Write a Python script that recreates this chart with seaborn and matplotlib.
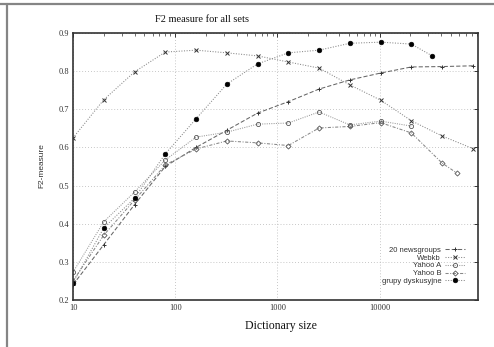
import matplotlib
matplotlib.use("Agg")
import matplotlib.pyplot as plt
import seaborn as sns
from matplotlib.lines import Line2D
from matplotlib.ticker import FixedLocator, FixedFormatter, LogLocator, NullFormatter

# ---------------- data ----------------
sizes_ng20 = [10, 20, 40, 80, 160, 320, 640, 1280, 2560, 5120, 10240, 20480, 40960, 81920]
f2_ng20 = [0.24, 0.345, 0.45, 0.55, 0.60, 0.645, 0.69, 0.72, 0.753, 0.777, 0.795, 0.811, 0.812, 0.814]

sizes_webkb = [10, 20, 40, 80, 160, 320, 640, 1280, 2560, 5120, 10240, 20480, 40960, 81920]
f2_webkb = [0.625, 0.725, 0.798, 0.85, 0.855, 0.848, 0.84, 0.824, 0.808, 0.764, 0.724, 0.67, 0.63, 0.597]

sizes_yahooA = [10, 20, 40, 80, 160, 320, 640, 1280, 2560, 5120, 10240, 20480]
f2_yahooA = [0.273, 0.405, 0.483, 0.567, 0.627, 0.64, 0.661, 0.664, 0.693, 0.659, 0.669, 0.656]

sizes_yahooB = [10, 20, 40, 80, 160, 320, 640, 1280, 2560, 5120, 10240, 20480, 40960, 57000]
f2_yahooB = [0.25, 0.37, 0.462, 0.554, 0.596, 0.617, 0.612, 0.605, 0.651, 0.655, 0.665, 0.638, 0.559, 0.533]

sizes_grupy = [10, 20, 40, 80, 160, 320, 640, 1280, 2560, 5120, 10240, 20480, 32768]
f2_grupy = [0.245, 0.389, 0.467, 0.583, 0.675, 0.766, 0.819, 0.848, 0.855, 0.873, 0.876, 0.871, 0.84]

series_names = ["20 newsgroups", "Webkb", "Yahoo A", "Yahoo B", "grupy dyskusyjne"]
x_ticks = [10, 100, 1000, 10000]
x_ticklabels = ["10", "100", "1000", "10000"]
y_ticks = [0.2, 0.3, 0.4, 0.5, 0.6, 0.7, 0.8, 0.9]
y_ticklabels = ["0.2", "0.3", "0.4", "0.5", "0.6", "0.7", "0.8", "0.9"]
title = "F2 measure for all sets"
xlabel = "Dictionary size"
ylabel = "F2-measure"

# ---------------- figure ----------------
sns.set_style("white")
plt.rcParams["font.family"] = ["Liberation Serif", "DejaVu Serif"]

W, H = 494, 347
fig = plt.figure(figsize=(W / 100, H / 100), dpi=100)
ax = fig.add_axes([73 / W, 1 - 300 / H, (478 - 73) / W, (300 - 33) / H])

styles = [
    dict(marker="+", ms=3.5, ls=(0, (4, 2)), color="#666666", mfc="#333333", mec="#333333", mew=0.7),
    dict(marker="x", ms=3.2, ls=(0, (1, 1.5)), color="#888888", mfc="#333333", mec="#333333", mew=0.7),
    dict(marker="o", ms=3.0, ls=(0, (1, 1.2)), color="#999999", mfc="none", mec="#555555", mew=0.6),
    dict(marker="D", ms=2.6, ls=(0, (3, 1.5, 1, 1.5)), color="#888888", mfc="none", mec="#555555", mew=0.6),
    dict(marker="o", ms=3.4, ls=(0, (1, 1.5)), color="#888888", mfc="black", mec="black", mew=0.4),
]
all_x = [sizes_ng20, sizes_webkb, sizes_yahooA, sizes_yahooB, sizes_grupy]
all_y = [f2_ng20, f2_webkb, f2_yahooA, f2_yahooB, f2_grupy]

for name, xs, ys, st in zip(series_names, all_x, all_y, styles):
    sns.lineplot(x=xs, y=ys, ax=ax, label=name, marker=st["marker"], markersize=st["ms"],
                 linestyle=st["ls"], color=st["color"], linewidth=0.75,
                 markerfacecolor=st["mfc"], markeredgecolor=st["mec"], markeredgewidth=st["mew"])

ax.set_xscale("log")
ax.set_xlim(10, 92000)
ax.set_ylim(0.2, 0.9)

ax.xaxis.set_major_locator(FixedLocator(x_ticks))
ax.xaxis.set_major_formatter(FixedFormatter(x_ticklabels))
ax.xaxis.set_minor_locator(LogLocator(base=10, subs=range(2, 10)))
ax.xaxis.set_minor_formatter(NullFormatter())
ax.yaxis.set_major_locator(FixedLocator(y_ticks))
ax.yaxis.set_major_formatter(FixedFormatter(y_ticklabels))

ax.tick_params(axis="both", which="major", direction="in", length=3, width=0.7,
               top=True, right=True, labelsize=6, pad=3, colors="#333333")
ax.tick_params(axis="both", which="minor", direction="in", length=1.8, width=0.5,
               top=True, right=True, colors="#333333")

ax.grid(True, which="major", color="#b5b5b5", linestyle=(0, (1, 2.5)), linewidth=0.6)

for sp in ax.spines.values():
    sp.set_visible(True)
    sp.set_color("#333333")
    sp.set_linewidth(1.2)
    sp.set_linestyle((0, (2, 1)))

fig.text(202 / W, 1 - 20 / H, title, ha="center", va="center", fontsize=7.5, color="#111111")
ax.set_xlabel(xlabel, fontsize=8.5, color="#111111")
ax.xaxis.set_label_coords((281 - 73) / 405, -(320 - 300) / 267)
ax.set_ylabel(ylabel, fontsize=6, family=["Liberation Sans", "DejaVu Sans"], color="#333333")
ax.yaxis.set_label_coords(-(73 - 45) / 405, (300 - 166) / 267)

leg = ax.legend(loc="lower right", bbox_to_anchor=(0.975, 0.045), borderaxespad=0,
                frameon=False, markerfirst=False, handlelength=2.6, handletextpad=0.5,
                labelspacing=0.05, prop={"family": ["Liberation Sans", "DejaVu Sans"], "size": 5.5})
for t in leg.get_texts():
    t.set_color("#333333")

# outer frame lines (top and left)
fig.add_artist(Line2D([0, 1], [1 - 4 / H, 1 - 4 / H], transform=fig.transFigure, color="#858585", lw=1.6))
fig.add_artist(Line2D([7 / W, 7 / W], [0, 1 - 4 / H], transform=fig.transFigure, color="#858585", lw=1.6))

fig.savefig("out.png", dpi=100)
